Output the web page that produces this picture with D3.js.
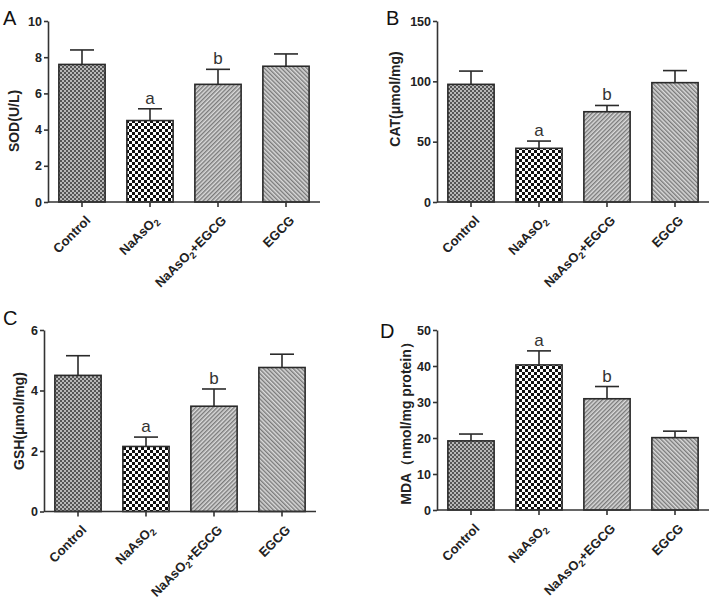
<!DOCTYPE html>
<html><head><meta charset="utf-8">
<script src="https://cdn.jsdelivr.net/npm/d3@7/dist/d3.min.js"></script>
<style>body{margin:0;background:#fff}svg{display:block}</style>
</head><body>
<script>
const categories = ["Control","NaAsO2","NaAsO2+EGCG","EGCG"];
const sodMean = [7.6, 4.5, 6.5, 7.5];
const sodSem  = [0.8, 0.65, 0.83, 0.68];
const catMean = [97.5, 44.5, 74.8, 98.9];
const catSem  = [11, 6, 5.2, 10];
const gshMean = [4.5, 2.15, 3.48, 4.76];
const gshSem  = [0.65, 0.31, 0.57, 0.44];
const mdaMean = [19.2, 40.3, 30.9, 20.1];
const mdaSem  = [1.9, 3.9, 3.4, 1.8];
const sigLetters = ["", "a", "b", ""];
const sodTicks = [0,2,4,6,8,10];
const catTicks = [0,50,100,150];
const gshTicks = [0,2,4,6];
const mdaTicks = [0,10,20,30,40,50];

const W = 720, H = 604;
const svg = d3.select("body").append("svg").attr("width", W).attr("height", H);
const defs = svg.append("defs");

const pc = defs.append("pattern").attr("id","pControl").attr("patternUnits","userSpaceOnUse").attr("width",4).attr("height",4);
pc.append("rect").attr("width",4).attr("height",4).attr("fill","#b8b8b8");
pc.append("rect").attr("width",2).attr("height",2).attr("fill","#555");
pc.append("rect").attr("x",2).attr("y",2).attr("width",2).attr("height",2).attr("fill","#555");

const pa = defs.append("pattern").attr("id","pArs").attr("patternUnits","userSpaceOnUse").attr("width",6).attr("height",6);
pa.append("rect").attr("width",6).attr("height",6).attr("fill","#ffffff");
pa.append("rect").attr("width",3).attr("height",3).attr("fill","#111");
pa.append("rect").attr("x",3).attr("y",3).attr("width",3).attr("height",3).attr("fill","#111");

function stripes(id, angle){
  const p = defs.append("pattern").attr("id",id).attr("patternUnits","userSpaceOnUse")
    .attr("width",3).attr("height",3).attr("patternTransform",`rotate(${angle})`);
  p.append("rect").attr("width",3).attr("height",3).attr("fill","#dadada");
  p.append("rect").attr("width",1.4).attr("height",3).attr("fill","#7a7a7a");
}
stripes("pCombo", 45);
stripes("pEgcg", -45);
const fills = ["url(#pControl)","url(#pArs)","url(#pCombo)","url(#pEgcg)"];

const panels = [
  {letter:"A", lx:3, ly:25, ax:48, top:21, bot:202, max:10, ticks:sodTicks, mean:sodMean, sem:sodSem, label:"SOD(U/L)", labX:14, labY:121},
  {letter:"B", lx:386, ly:25, ax:437, top:21, bot:202, max:150, ticks:catTicks, mean:catMean, sem:catSem, label:"CAT(\u03bcmol/mg)", labX:395, labY:99},
  {letter:"C", lx:3, ly:325, ax:44, top:330, bot:511.5, max:6, ticks:gshTicks, mean:gshMean, sem:gshSem, label:"GSH(\u03bcmol/mg)", labX:19, labY:421},
  {letter:"D", lx:380, ly:338, ax:437, top:330, bot:510, max:50, ticks:mdaTicks, mean:mdaMean, sem:mdaSem, label:"MDA\uff08nmol/mg protein\uff09", labX:406, labY:420}
];

const font = "Liberation Sans, Arial, Helvetica, sans-serif";

panels.forEach(p => {
  const g = svg.append("g");
  const x = d3.scaleBand().domain(categories).range([p.ax, p.ax + 272]).paddingInner(0.32).paddingOuter(0.16);
  const y = d3.scaleLinear().domain([0, p.max]).range([p.bot, p.top]);

  g.selectAll("rect.bar").data(categories).join("rect")
    .attr("x", d => x(d)).attr("width", x.bandwidth())
    .attr("y", (d,i) => y(p.mean[i])).attr("height", (d,i) => y(0) - y(p.mean[i]))
    .attr("fill", (d,i) => fills[i]).attr("stroke", "#2a2a2a").attr("stroke-width", 1.6);

  const cap = 12;
  categories.forEach((d,i) => {
    const cx = x(d) + x.bandwidth()/2;
    const y1 = y(p.mean[i]), y2 = y(p.mean[i] + p.sem[i]);
    g.append("line").attr("x1",cx).attr("x2",cx).attr("y1",y1).attr("y2",y2).attr("stroke","#2a2a2a").attr("stroke-width",1.6);
    g.append("line").attr("x1",cx-cap).attr("x2",cx+cap).attr("y1",y2).attr("y2",y2).attr("stroke","#2a2a2a").attr("stroke-width",1.6);
    if (sigLetters[i]) {
      g.append("text").attr("x",cx).attr("y",y2-5).attr("text-anchor","middle")
        .attr("font-family",font).attr("font-size",17).attr("fill","#333").text(sigLetters[i]);
    }
  });

  const ya = g.append("g").attr("transform",`translate(${p.ax},0)`)
    .call(d3.axisLeft(y).tickValues(p.ticks).tickFormat(d3.format("d")).tickSize(4).tickPadding(2).tickSizeOuter(0));
  ya.select(".domain").attr("stroke","#333").attr("stroke-width",1.6);
  ya.selectAll(".tick line").attr("stroke","#333").attr("stroke-width",1.6);
  ya.selectAll(".tick text").attr("font-family",font).attr("font-weight","bold").attr("font-size",12.5).attr("fill","#222");

  const xa = g.append("g").attr("transform",`translate(0,${p.bot})`)
    .call(d3.axisBottom(x).tickSize(5).tickSizeOuter(0));
  xa.select(".domain").attr("stroke","#333").attr("stroke-width",1.6);
  xa.selectAll(".tick line").attr("stroke","#333").attr("stroke-width",1.6);
  xa.selectAll(".tick text").remove();
  xa.selectAll(".tick").each(function(d){
    const t = d3.select(this).append("text")
      .attr("transform","translate(6,16) rotate(-45)")
      .attr("text-anchor","end").attr("font-family",font).attr("font-weight","bold")
      .attr("font-size",13).attr("fill","#222").attr("dy","0.35em");
    const m = d.match(/^(NaAsO)2(.*)$/);
    if (m) {
      t.append("tspan").text(m[1]);
      t.append("tspan").attr("font-size",9.5).attr("dy",3).text("2");
      if (m[2]) t.append("tspan").attr("dy",-3).text(m[2]);
    } else t.text(d);
  });
  xa.select(".domain").attr("d", `M${p.ax},0H${p.ax+272}`);

  g.append("text").attr("transform",`translate(${p.labX},${p.labY}) rotate(-90)`)
    .attr("text-anchor","middle").attr("dy","0.35em")
    .attr("font-family",font).attr("font-weight","bold").attr("font-size",14).attr("fill","#222").text(p.label);

  g.append("text").attr("x",p.lx).attr("y",p.ly).attr("font-family",font).attr("font-size",20).attr("fill","#111").text(p.letter);
});
</script>
</body></html>
